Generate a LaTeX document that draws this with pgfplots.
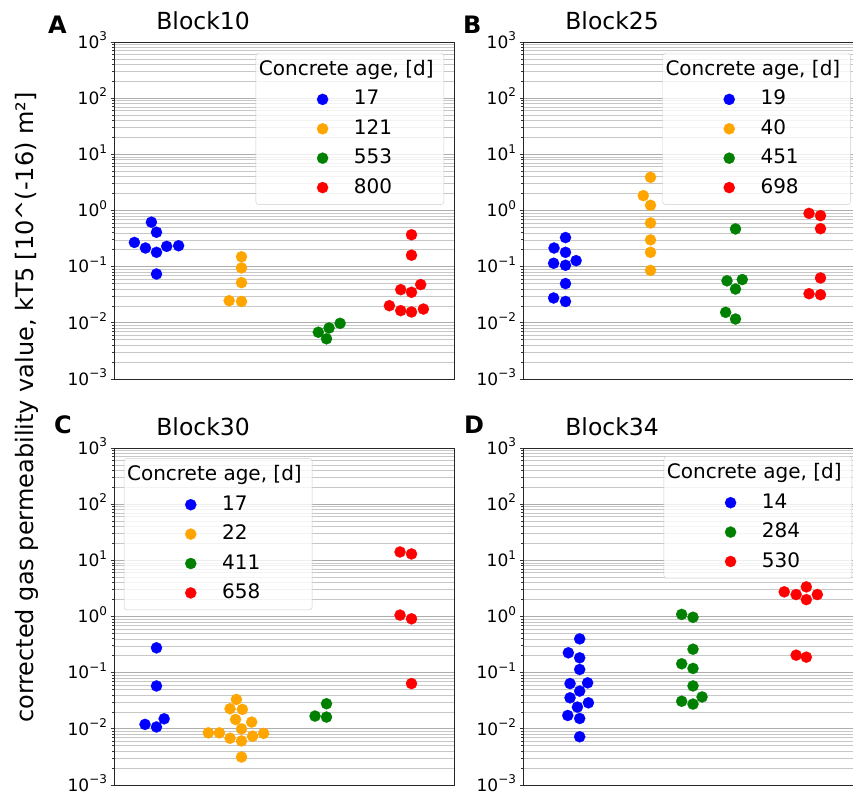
\documentclass[border=0pt]{standalone}
\usepackage{fontspec}
\setmainfont{DejaVu Sans}
\usepackage{pgfplots}
\pgfplotsset{compat=1.18}
\definecolor{mblue}{RGB}{0,0,255}
\definecolor{morange}{RGB}{255,165,0}
\definecolor{mgreen}{RGB}{0,128,0}
\definecolor{mred}{RGB}{255,0,0}
\newcommand\tl[1]{10\raisebox{7.5pt}{\fontsize{12}{12}\selectfont #1}}
\pgfplotsset{
    width=340pt, height=337pt, scale only axis,
    ymin=1e-3, ymax=1e3,
    xmin=-0.5, xmax=3.5,
    xtick=\empty,
    ytick={1e-3,1e-2,1e-1,1,10,100,1000},
    yticklabels={\tl{−3},\tl{−2},\tl{−1},\tl{0},\tl{1},\tl{2},\tl{3}},
    minor ytick={2e-3,3e-3,4e-3,5e-3,6e-3,7e-3,8e-3,9e-3,
      0.02,0.03,0.04,0.05,0.06,0.07,0.08,0.09,
      0.2,0.3,0.4,0.5,0.6,0.7,0.8,0.9,
      2,3,4,5,6,7,8,9,
      20,30,40,50,60,70,80,90,
      200,300,400,500,600,700,800,900},
    ymajorgrids, yminorgrids,
    major grid style={color=black!32, line width=0.8pt},
    minor grid style={color=black!22, line width=0.7pt},
    tick align=outside, ytick pos=left,
    major tick length=3.5pt, minor tick length=2pt,
    tick style={black!80, line width=0.8pt},
    axis line style={black!85, line width=0.8pt},
    yticklabel style={font=\fontsize{17}{20}\selectfont, text height=17pt, text depth=4.6pt, anchor=east},
    title style={at={(0.262,1)}, anchor=base, yshift=7pt, font=\fontsize{23.5}{28}\selectfont},
    legend cell align=left,
    legend style={draw=black!20, rounded corners=3pt, fill=white, fill opacity=0.8, text opacity=1, draw opacity=1, inner xsep=0pt, inner ysep=5.5pt, font=\fontsize{20}{24}\selectfont, nodes={inner sep=2pt, text height=15pt, text depth=4pt}, row sep=6.4pt, column sep=0pt},
    dotleg/.style={legend image code/.code={\path[draw=none,fill=none] (0pt,-5pt) rectangle (96pt,5pt); \draw[mark repeat=2,mark phase=2,##1,fill opacity=1,draw opacity=1,rounded corners=0pt] plot coordinates {(0pt,0pt) (66.7pt,0pt) (96pt,0pt)};}},
    pb/.style={only marks, color=mblue, mark=*, mark size=5.6pt, mark options={draw=mblue, fill=mblue, line width=0.2pt}, dotleg},
    po/.style={only marks, color=morange, mark=*, mark size=5.6pt, mark options={draw=morange, fill=morange, line width=0.2pt}, dotleg},
    pgr/.style={only marks, color=mgreen, mark=*, mark size=5.6pt, mark options={draw=mgreen, fill=mgreen, line width=0.2pt}, dotleg},
    prd/.style={only marks, color=mred, mark=*, mark size=5.6pt, mark options={draw=mred, fill=mred, line width=0.2pt}, dotleg},
}
\newcommand\legtitle{\addlegendimage{empty legend}\addlegendentry{\hspace*{-95pt}Concrete age, [d]\hspace*{8.3pt}}}
\begin{document}
\begin{tikzpicture}
\useasboundingbox (0pt,0pt) rectangle (853pt,-793pt);
% ---------------- A
\begin{semilogyaxis}[at={(114pt,-42pt)}, anchor=north west, title={Block10},
  legend style={at={(0.971,0.968)}, anchor=north east}]
\legtitle
\addplot[pb] coordinates {(-0.06,0.62) (0,0.41) (-0.26,0.27) (-0.13,0.215) (0,0.18) (0.12,0.23) (0.26,0.236) (0,0.074)};
\addlegendentry{17}
\addplot[po] coordinates {(1,0.15) (1,0.095) (1,0.052) (0.855,0.0248) (1,0.024)};
\addlegendentry{121}
\addplot[pgr] coordinates {(1.904,0.0068) (2.03,0.0081) (2.16,0.0098) (2,0.0052)};
\addlegendentry{553}
\addplot[prd] coordinates {(3,0.37) (3,0.16) (3.108,0.048) (2.873,0.039) (3,0.035) (2.74,0.0202) (2.873,0.0165) (3,0.0156) (3.14,0.0176)};
\addlegendentry{800}
\end{semilogyaxis}
% ---------------- B
\begin{semilogyaxis}[at={(523pt,-42pt)}, anchor=north west, title={Block25},
  legend style={at={(0.964,0.968)}, anchor=north east}]
\legtitle
\addplot[pb] coordinates {(0,0.33) (-0.135,0.215) (0,0.18) (-0.14,0.115) (0,0.106) (0.125,0.128) (0,0.05) (-0.14,0.0277) (0,0.024)};
\addlegendentry{19}
\addplot[po] coordinates {(1,3.9) (0.915,1.84) (1,1.24) (1,0.60) (1,0.30) (1,0.18) (1,0.086)};
\addlegendentry{40}
\addplot[pgr] coordinates {(2,0.47) (1.9,0.056) (2.08,0.059) (2,0.040) (1.884,0.0154) (2,0.0117)};
\addlegendentry{451}
\addplot[prd] coordinates {(2.865,0.89) (3,0.81) (3,0.475) (3,0.063) (2.865,0.033) (3,0.0317)};
\addlegendentry{698}
\end{semilogyaxis}
% ---------------- C
\begin{semilogyaxis}[at={(114pt,-448pt)}, anchor=north west, title={Block30},
  legend style={at={(0.029,0.970)}, anchor=north west}]
\legtitle
\addplot[pb] coordinates {(0,0.277) (0,0.058) (-0.135,0.012) (0,0.0108) (0.09,0.0151)};
\addlegendentry{17}
\addplot[po] coordinates {(0.94,0.0334) (0.865,0.0228) (1.01,0.0222) (0.93,0.0147) (1.12,0.0132) (0.61,0.0085) (0.74,0.0085) (1,0.01) (0.865,0.0068) (1,0.0061) (1.13,0.0074) (1.26,0.0083) (1,0.00315)};
\addlegendentry{22}
\addplot[pgr] coordinates {(2,0.028) (1.865,0.0169) (2,0.0162)};
\addlegendentry{411}
\addplot[prd] coordinates {(2.865,14.1) (3,13.0) (2.865,1.06) (3,0.91) (3,0.064)};
\addlegendentry{658}
\end{semilogyaxis}
% ---------------- D
\begin{semilogyaxis}[xmax=2.5, at={(523pt,-448pt)}, anchor=north west, title={Block34},
  legend style={at={(0.968,0.976)}, anchor=north east}]
\legtitle
\addplot[pb] coordinates {(0,0.40) (-0.10,0.226) (0,0.184) (0,0.114) (-0.085,0.064) (0.07,0.066) (0,0.047) (-0.085,0.0357) (0.077,0.0291) (-0.02,0.0244) (-0.105,0.0173) (0,0.0153) (0,0.00724)};
\addlegendentry{14}
\addplot[pgr] coordinates {(0.9,1.09) (1,0.97) (1,0.262) (0.9,0.144) (1,0.119) (1,0.058) (1.08,0.037) (0.9,0.031) (1,0.0276)};
\addlegendentry{284}
\addplot[prd] coordinates {(2,3.37) (1.805,2.75) (1.91,2.46) (2.097,2.46) (2,2.0) (1.91,0.205) (2,0.189)};
\addlegendentry{530}
\end{semilogyaxis}
% ---------------- labels
\node[anchor=base west, inner sep=0pt, font=\fontsize{24}{28}\selectfont\bfseries] at (48pt,-33pt) {A};
\node[anchor=base west, inner sep=0pt, font=\fontsize{24}{28}\selectfont\bfseries] at (463pt,-33pt) {B};
\node[anchor=base west, inner sep=0pt, font=\fontsize{24}{28}\selectfont\bfseries] at (54pt,-433pt) {C};
\node[anchor=base west, inner sep=0pt, font=\fontsize{24}{28}\selectfont\bfseries] at (464pt,-433pt) {D};
\node[rotate=90, anchor=base, inner sep=0pt, font=\fontsize{24}{28}\selectfont] at (33pt,-407.5pt) {corrected gas permeability value, kT5 [10\textasciicircum(-16) m²]};
\end{tikzpicture}
\end{document}
